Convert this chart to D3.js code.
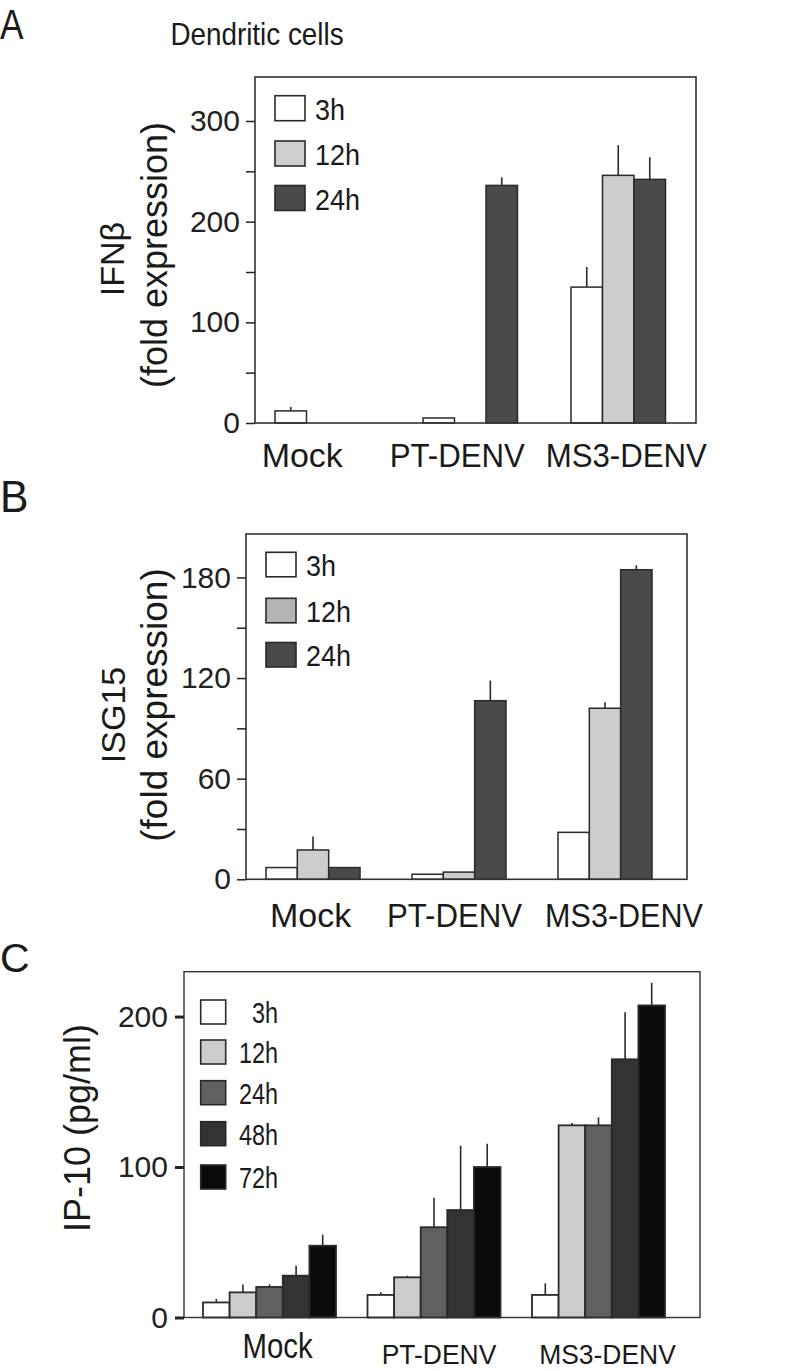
<!DOCTYPE html>
<html>
<head>
<meta charset="utf-8">
<script src="https://cdn.jsdelivr.net/npm/d3@7"></script>
<style>
  html, body { margin: 0; padding: 0; background: #fff; }
  svg { display: block; font-family: "Liberation Sans", Arial, Helvetica, sans-serif; }
</style>
</head>
<body>
<svg id="chart" width="800" height="1371"></svg>
<script>
// ---------------- DATA ----------------
const categories = ["Mock", "PT-DENV", "MS3-DENV"];

// Panel A: IFNβ fold expression
const seriesA = ["3h", "12h", "24h"];
const ifnbValues = [[12, 0, 0], [5, 0, 236], [135, 246, 242]];
const ifnbErrors = [[4, 0, 0], [0, 0, 8], [20, 30, 22]];
const ticksA = [0, 100, 200, 300];
const minorTicksA = [50, 150, 250];

// Panel B: ISG15 fold expression
const seriesB = ["3h", "12h", "24h"];
const isg15Values = [[7, 17.5, 7], [3, 4.3, 106.5], [28, 102, 184.6]];
const isg15Errors = [[0, 8, 0], [0, 0, 12], [0, 3.5, 2.6]];
const ticksB = [0, 60, 120, 180];
const minorTicksB = [30, 90, 150];

// Panel C: IP-10 (pg/ml)
const seriesC = ["3h", "12h", "24h", "48h", "72h"];
const ip10Values = [[10, 16.7, 20.3, 27.8, 47.7], [15, 26.7, 60, 71.4, 100], [15, 127.7, 127.7, 171.6, 207.4]];
const ip10Errors = [[2.3, 5.3, 1.7, 6.6, 7.3], [1.7, 1, 19.5, 42.8, 15.5], [7.7, 1.5, 5.3, 31.2, 15]];
const ticksC = [0, 100, 200];

// ---------------- DRAWING ----------------
const svg = d3.select("#chart");

// text with optional horizontal condensing (the original figure uses a narrow face)
function label(parent, txt, x, y, size, sx, anchor, rotate) {
  const rot = rotate ? ` rotate(${rotate})` : "";
  return parent.append("text")
    .attr("transform", `translate(${x},${y})${rot} scale(${sx},1)`)
    .attr("text-anchor", anchor)
    .attr("font-size", size)
    .attr("fill", "#1a1a1a")
    .text(txt);
}

function drawPanel(cfg) {
  const g = svg.append("g");
  const y = d3.scaleLinear().domain(cfg.yDomain).range([cfg.bottom, cfg.top]);
  const x0 = d3.scaleBand().domain(categories).range(cfg.groupRange).paddingInner(cfg.padInner).paddingOuter(0);
  const x1 = d3.scaleBand().domain(cfg.series).range([0, x0.bandwidth()]).padding(0);
  const color = d3.scaleOrdinal().domain(cfg.series).range(cfg.colors);

  // bars
  categories.forEach((cat, ci) => {
    cfg.series.forEach((s, si) => {
      const v = cfg.values[ci][si];
      const e = cfg.errors[ci][si];
      if (v <= 0) return;
      const bx = x0(cat) + x1(s);
      if (e > 0) {
        g.append("line")
          .attr("x1", bx + x1.bandwidth() / 2).attr("x2", bx + x1.bandwidth() / 2)
          .attr("y1", y(v)).attr("y2", y(v + e))
          .attr("stroke", "#2a2a2a").attr("stroke-width", 1.6);
      }
      g.append("rect")
        .attr("x", bx).attr("y", y(v))
        .attr("width", x1.bandwidth()).attr("height", y(0) - y(v))
        .attr("fill", color(s)).attr("stroke", "#2a2a2a").attr("stroke-width", cfg.barStroke);
    });
  });

  // frame
  g.append("rect")
    .attr("x", cfg.left).attr("y", cfg.top)
    .attr("width", cfg.right - cfg.left).attr("height", cfg.bottom - cfg.top)
    .attr("fill", "none").attr("stroke", "#333").attr("stroke-width", cfg.frameStroke);

  // y axis
  const ax = g.append("g").attr("transform", `translate(${cfg.left},0)`)
    .call(d3.axisLeft(y).tickValues(cfg.ticks).tickSize(cfg.tickLen).tickPadding(cfg.tickPad).tickFormat(d3.format("d")));
  ax.select(".domain").remove();
  ax.selectAll(".tick line").attr("stroke", "#222").attr("stroke-width", cfg.tickStroke);
  ax.selectAll(".tick text").attr("font-size", cfg.tickFont).attr("fill", "#222").attr("font-family", null);
  if (cfg.minorTicks) {
    const mx = g.append("g").attr("transform", `translate(${cfg.left},0)`)
      .call(d3.axisLeft(y).tickValues(cfg.minorTicks).tickSize(cfg.tickLen).tickFormat(""));
    mx.select(".domain").remove();
    mx.selectAll(".tick line").attr("stroke", "#222").attr("stroke-width", cfg.tickStroke);
  }

  // category labels
  categories.forEach((cat, ci) => {
    label(g, cat, x0(cat) + x0.bandwidth() / 2 + cfg.catDx[ci], cfg.catY[ci], cfg.catFont[ci], cfg.catSx[ci], "middle");
  });

  // y axis title lines
  cfg.yTitle.forEach(t => label(g, t.text, t.x, t.y, t.size, 1, "middle", -90));

  // legend
  cfg.series.forEach((s, si) => {
    const ly = cfg.legend.y[si];
    g.append("rect")
      .attr("x", cfg.legend.x).attr("y", ly)
      .attr("width", cfg.legend.w).attr("height", cfg.legend.h)
      .attr("fill", cfg.legendColors[si]).attr("stroke", "#2a2a2a").attr("stroke-width", 1.6);
    label(g, s, cfg.legend.tx, ly + cfg.legend.h - 1, cfg.legend.font, cfg.legend.sx, cfg.legend.anchor);
  });

  // panel letter
  label(g, cfg.letter.text, 0, cfg.letter.y, cfg.letter.size, cfg.letter.sx, "start");
}

// title
label(svg, "Dendritic cells", 257, 45, 32, 0.87, "middle");

drawPanel({
  letter: { text: "A", y: 39, size: 43, sx: 0.82 },
  series: seriesA, values: ifnbValues, errors: ifnbErrors,
  colors: ["#ffffff", "#cdcdcd", "#4a4a4a"],
  legendColors: ["#ffffff", "#cfcfcf", "#4a4a4a"],
  left: 255, right: 696, top: 77, bottom: 423,
  yDomain: [0, 343.7], ticks: ticksA, minorTicks: minorTicksA,
  groupRange: [275, 665.5], padInner: 0.3615,
  tickLen: 9, tickPad: 6, tickStroke: 1.5, tickFont: 30,
  frameStroke: 1.6, barStroke: 1.5,
  catDx: [-20, -13, 8], catY: [467, 467, 467], catFont: [34, 32.5, 32.5], catSx: [1, 0.96, 0.96],
  yTitle: [{ text: "IFNβ", x: 124, y: 259, size: 34 }, { text: "(fold expression)", x: 167, y: 255, size: 36 }],
  legend: { x: 275, y: [95.7, 141, 185.5], w: 30, h: 25, tx: 315, anchor: "start", font: 29, sx: 0.93 }
});

drawPanel({
  letter: { text: "B", y: 512, size: 45, sx: 0.95 },
  series: seriesB, values: isg15Values, errors: isg15Errors,
  colors: ["#ffffff", "#cdcdcd", "#4a4a4a"],
  legendColors: ["#ffffff", "#b4b4b4", "#4a4a4a"],
  left: 246, right: 687, top: 534, bottom: 879.3,
  yDomain: [0, 205.9], ticks: ticksB, minorTicks: minorTicksB,
  groupRange: [266, 652], padInner: 0.356,
  tickLen: 9, tickPad: 6, tickStroke: 1.5, tickFont: 30,
  frameStroke: 1.6, barStroke: 1.5,
  catDx: [-2.5, -4.5, 19], catY: [926.5, 926.5, 926.5], catFont: [34, 32.5, 32.5], catSx: [1, 0.96, 0.94],
  yTitle: [{ text: "ISG15", x: 125, y: 715, size: 34 }, { text: "(fold expression)", x: 167, y: 705, size: 37 }],
  legend: { x: 266, y: [552.3, 598.3, 642.5], w: 30, h: 24.5, tx: 306, anchor: "start", font: 29, sx: 0.93 }
});

drawPanel({
  letter: { text: "C", y: 972, size: 41, sx: 1 },
  series: seriesC, values: ip10Values, errors: ip10Errors,
  colors: ["#ffffff", "#cccccc", "#606060", "#333333", "#0a0a0a"],
  legendColors: ["#ffffff", "#cccccc", "#606060", "#333333", "#0a0a0a"],
  left: 184, right: 700, top: 971.7, bottom: 1317.5,
  yDomain: [0, 229.8], ticks: ticksC, minorTicks: null,
  groupRange: [203, 665], padInner: 0.1915,
  tickLen: 9, tickPad: 7, tickStroke: 3, tickFont: 30,
  frameStroke: 1.4, barStroke: 1.8,
  catDx: [8, 5, 9], catY: [1358, 1364, 1364], catFont: [35, 27, 27], catSx: [0.84, 0.98, 0.98],
  yTitle: [{ text: "IP-10 (pg/ml)", x: 90, y: 1128, size: 36 }],
  legend: { x: 200.7, y: [1000, 1040, 1080.7, 1121.7, 1165], w: 25, h: 24, tx: 278, anchor: "end", font: 30, sx: 0.78 }
});
</script>
</body>
</html>
